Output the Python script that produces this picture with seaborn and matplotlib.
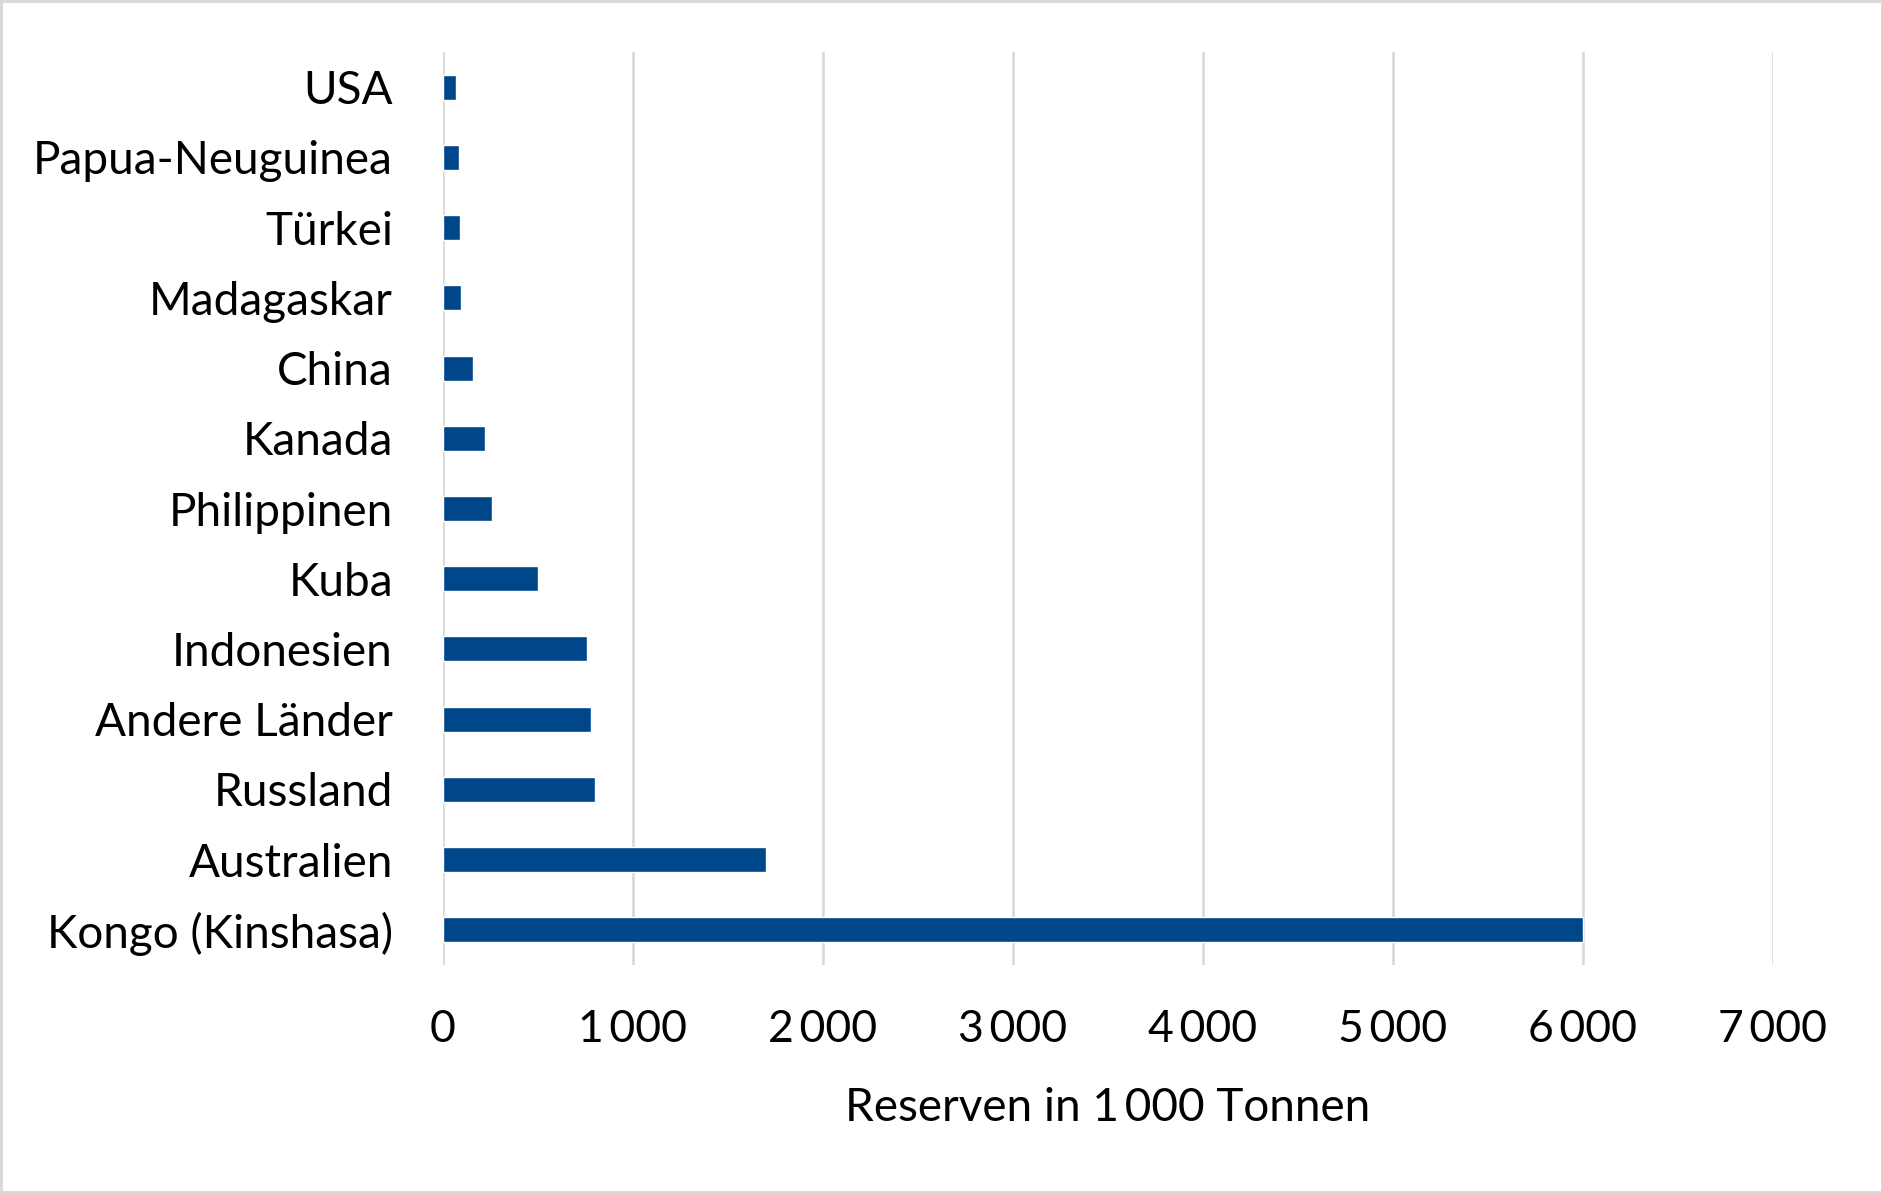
import matplotlib
matplotlib.use("Agg")
import matplotlib.pyplot as plt
import seaborn as sns
import pandas as pd
from matplotlib.ticker import FixedLocator, FixedFormatter

countries = ["USA", "Papua-Neuguinea", "Türkei", "Madagaskar", "China", "Kanada",
             "Philippinen", "Kuba", "Indonesien", "Andere Länder", "Russland",
             "Australien", "Kongo (Kinshasa)"]
reserves = [71, 82, 92, 97, 160, 220, 260, 500, 760, 780, 800, 1700, 6000]
x_ticks = [0, 1000, 2000, 3000, 4000, 5000, 6000, 7000]
x_tick_labels = ["0", "1\u2009000", "2\u2009000", "3\u2009000", "4\u2009000",
                 "5\u2009000", "6\u2009000", "7\u2009000"]
x_label = "Reserven in 1\u2009000 Tonnen"

df = pd.DataFrame({"Land": countries, "Reserven": reserves})

sns.set_theme(style="white")
plt.rcParams["font.family"] = ["Lato", "DejaVu Sans"]

W, H = 1883, 1193
fig = plt.figure(figsize=(W / 100, H / 100), dpi=100)
fig.patch.set_facecolor("white")
fig.patch.set_edgecolor("#d9d9d9")
fig.patch.set_linewidth(2.5)

left, right = 443 / W, 1773 / W
top, bottom = 1 - 52 / H, 1 - 965 / H
ax = fig.add_axes([left, bottom, right - left, top - bottom])

sns.barplot(data=df, x="Reserven", y="Land", order=countries, orient="h",
            color="#00468B", saturation=1, width=0.356, ax=ax, zorder=3)

ax.set_xlim(0, 7000)
ax.set_ylim(len(countries) - 0.5, -0.5)
ax.xaxis.set_major_locator(FixedLocator(x_ticks))
ax.xaxis.set_major_formatter(FixedFormatter(x_tick_labels))
ax.grid(axis="x", color="#d6d6d6", linewidth=1.8, zorder=0)
ax.grid(axis="y", visible=False)
for s in ax.spines.values():
    s.set_visible(False)
ax.tick_params(axis="both", length=0, colors="black")
ax.tick_params(axis="y", pad=36, labelsize=33)
ax.tick_params(axis="x", pad=32, labelsize=32)
ax.set_ylabel("")
ax.set_xlabel(x_label, fontsize=33, color="black", labelpad=26)

fig.savefig("out.png", dpi=100, facecolor="white", edgecolor="#d9d9d9")
